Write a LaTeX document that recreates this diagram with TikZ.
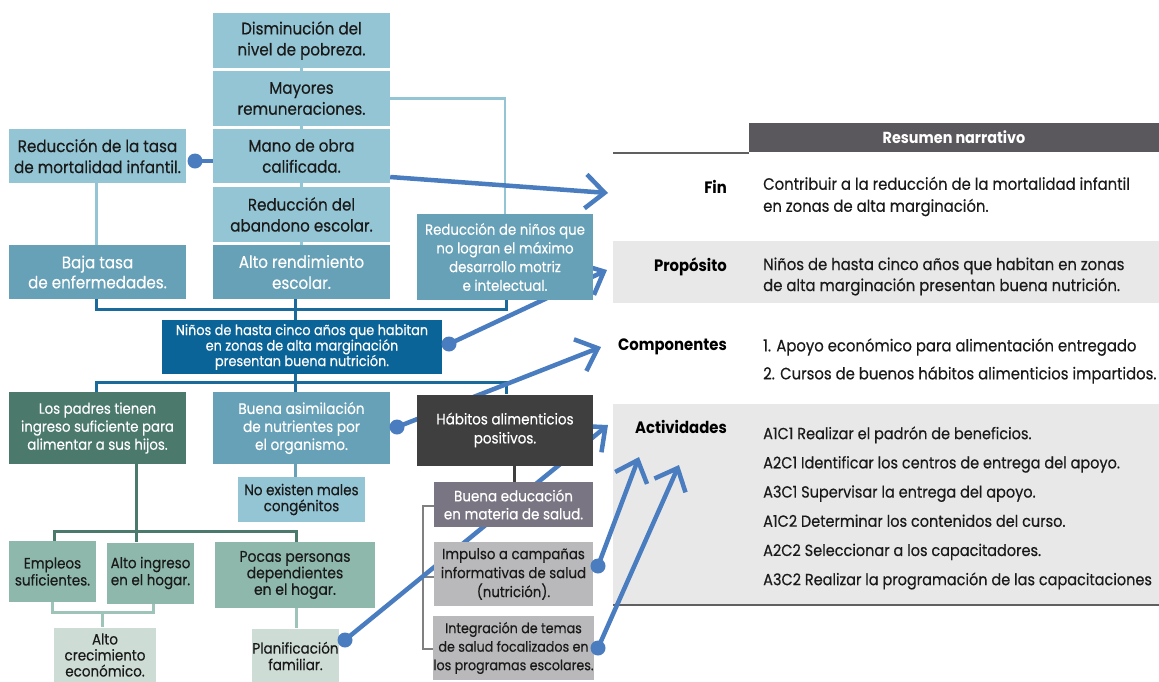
\documentclass[tikz,border=0pt]{standalone}
\usepackage{fontspec}
\setmainfont{Poppins}[FakeStretch=0.9, UprightFeatures={FakeBold=0.4}]
\usetikzlibrary{arrows.meta,calc}
\definecolor{lightteal}{HTML}{93C5D4}
\definecolor{midteal}{HTML}{66A1B7}
\definecolor{navy}{HTML}{0B6497}
\definecolor{treeblue}{HTML}{1B6A9C}
\definecolor{arrowblue}{HTML}{4A7DBF}
\definecolor{darkgreen}{HTML}{4B7A6D}
\definecolor{midgreen}{HTML}{8DB8AB}
\definecolor{palegreen}{HTML}{CDDCD5}
\definecolor{habgray}{HTML}{3F3F3F}
\definecolor{edugray}{HTML}{7A7582}
\definecolor{boxgray}{HTML}{B9B9BB}
\definecolor{headgray}{HTML}{5B585D}
\definecolor{bandgray}{HTML}{E8E8E8}
\definecolor{rulegray}{HTML}{606060}
\definecolor{txt}{HTML}{1A1A1A}
\pgfdeclarelayer{back}
\pgfdeclarelayer{bg}
\pgfsetlayers{back,bg,main}
\tikzset{
  box/.style={draw=none, inner sep=0pt, align=center, text=txt},
  wbox/.style={box, text=white},
  fs/.style 2 args={font=\fontsize{#1}{#2}\selectfont},
  dot/.style={circle, fill=arrowblue, minimum size=15pt, inner sep=0pt},
  arr/.style={draw=arrowblue, line width=4.5pt, -{Straight Barb[length=19pt,width=34pt]}},
  lbl/.style={anchor=east, inner sep=0pt, text=black, font=\fontsize{16.5}{20}\selectfont\bfseries},
  desc/.style={anchor=west, inner sep=0pt, align=left, text=txt},
  tb/.style={draw=treeblue, line width=3pt},
  tl/.style={draw=lightteal, line width=3pt},
}
\begin{document}
\begin{tikzpicture}[x=1pt,y=-1pt]
\useasboundingbox (0,0) rectangle (1159,681);

% ---------- table ----------
\begin{pgfonlayer}{back}
\fill[bandgray] (613,241) rectangle (1159,303);
\fill[bandgray] (613,404) rectangle (1159,605);
\draw[rulegray, line width=2.5pt] (613,605) -- (1159,605);
\draw[rulegray, line width=2.5pt] (613,153) -- (749,153);
\end{pgfonlayer}
\node[fill=headgray, minimum width=410pt, minimum height=29pt, inner sep=0pt, text=white, font=\fontsize{16}{18}\selectfont\bfseries] (head) at (954,137.5) {Resumen narrativo};

\node[lbl] (lfin) at (727,187) {Fin};
\node[desc, fs={16.5}{22}] (tfin) at (763,196.5) {Contribuir a la reducción de la mortalidad infantil\\en zonas de alta marginación.};
\node[lbl] (lprop) at (727,267) {Propósito};
\node[desc, fs={16.5}{21}] (tprop) at (763,276.5) {Niños de hasta cinco años que habitan en zonas\\de alta marginación presentan buena nutrición.};
\node[lbl] (lcomp) at (727,347) {Componentes};
\node[desc, fs={16.5}{28}] (tcomp) at (763,361) {1. Apoyo económico para alimentación entregado\\2. Cursos de buenos hábitos alimenticios impartidos.};
\node[lbl] (lact) at (727,427) {Actividades};
\node[desc, fs={16.1}{29.2}] (tact) at (763,508) {A1C1 Realizar el padrón de beneficios.\\A2C1 Identificar los centros de entrega del apoyo.\\A3C1 Supervisar la entrega del apoyo.\\A1C2 Determinar los contenidos del curso.\\A2C2 Seleccionar a los capacitadores.\\A3C2 Realizar la programación de las capacitaciones};

% ---------- boxes ----------
\node[box, fs={16.8}{21}, fill=lightteal, minimum width=177pt, minimum height=55pt] (dis) at (301.5,40.5) {Disminución del\\nivel de pobreza.};
\node[box, fs={16.8}{21}, fill=lightteal, minimum width=177pt, minimum height=55pt] (may) at (301.5,98.5) {Mayores\\remuneraciones.};
\node[box, fs={16.8}{21}, fill=lightteal, minimum width=177pt, minimum height=54pt] (mano) at (301.5,156) {Mano de obra\\calificada.};
\node[box, fs={16.8}{21}, fill=lightteal, minimum width=177pt, minimum height=55pt] (aban) at (301.5,214.5) {Reducción del\\abandono escolar.};
\node[wbox, fs={16.8}{21}, fill=midteal, minimum width=177pt, minimum height=54pt] (alto) at (301.5,272) {Alto rendimiento\\escolar.};
\node[box, fs={16.8}{21}, fill=lightteal, minimum width=177pt, minimum height=54pt] (tasa) at (97.5,156) {Reducción de la tasa\\de mortalidad infantil.};
\node[wbox, fs={16.8}{20}, fill=midteal, minimum width=177pt, minimum height=54pt] (baja) at (97.5,272) {Baja tasa\\de enfermedades.};
\node[wbox, fs={14.8}{18.7}, fill=midteal, minimum width=176pt, minimum height=86pt] (rnin) at (505,257) {Reducción de niños que\\no logran el máximo\\desarrollo motriz\\e intelectual.};
\node[wbox, fs={14.3}{15.5}, fill=navy, minimum width=280pt, minimum height=54pt] (ninos) at (302,347) {Niños de hasta cinco años que habitan\\en zonas de alta marginación\\presentan buena nutrición.};
\node[wbox, fs={14.8}{18}, fill=darkgreen, minimum width=177pt, minimum height=72pt] (padres) at (97.5,428) {Los padres tienen\\ingreso suficiente para\\alimentar a sus hijos.};
\node[wbox, fs={15.2}{18}, fill=midteal, minimum width=177pt, minimum height=72pt] (asim) at (301.5,428) {Buena asimilación\\de nutrientes por\\el organismo.};
\node[wbox, fs={15}{19}, fill=habgray, minimum width=176pt, minimum height=71pt] (hab) at (505,430) {Hábitos alimenticios\\positivos.};
\node[box, fs={15}{16}, fill=lightteal, minimum width=127pt, minimum height=45pt] (noex) at (301.5,499.5) {No existen males\\congénitos};
\node[box, fs={15}{17}, fill=midgreen, minimum width=87pt, minimum height=61pt] (emp) at (52.5,571.5) {Empleos\\suficientes.};
\node[box, fs={15}{17}, fill=midgreen, minimum width=87pt, minimum height=61pt] (ingr) at (150.5,573) {Alto ingreso\\en el hogar.};
\node[box, fs={15.5}{16.5}, fill=midgreen, minimum width=160pt, minimum height=66pt] (pocas) at (295,575) {Pocas personas\\dependientes\\en el hogar.};
\node[box, fs={15}{16}, fill=palegreen, minimum width=102pt, minimum height=55pt] (crec) at (105,655) {Alto\\crecimiento\\económico.};
\node[box, fs={15}{16.5}, fill=palegreen, minimum width=85pt, minimum height=55pt] (plan) at (295.5,656) {Planificación\\familiar.};
\node[wbox, fs={15}{18}, fill=edugray, minimum width=159pt, minimum height=45pt] (edu) at (513.5,504.5) {Buena educación\\en materia de salud.};
\node[box, fs={14.8}{19}, fill=boxgray, minimum width=159pt, minimum height=64pt] (imp) at (513.5,574) {Impulso a campañas\\informativas de salud\\(nutrición).};
\node[box, fs={14.1}{18.5}, fill=boxgray, minimum width=159pt, minimum height=64pt] (integ) at (513.5,648) {Integración de temas\\de salud focalizados en\\los programas escolares.};

% ---------- dots ----------
\node[dot] (d1) at (195,161) {};
\node[dot] (d2) at (449,344) {};
\node[dot] (d3) at (397,427) {};
\node[dot] (d4) at (345,640) {};
\node[dot] (d5) at (598,566) {};
\node[dot] (d6) at (598,648) {};

% ---------- arrow tips ----------
\coordinate (afin) at (608,193);
\coordinate (aprop) at (607,270);
\coordinate (acomp) at (601,347);
\coordinate (aact1) at (608,425);
\coordinate (aact2) at (639,457);
\coordinate (aact3) at (679,465);

\begin{pgfonlayer}{bg}
% light connectors
\draw[tl] (dis.south) -- (alto.north);
\draw[tl, line width=2.5pt] (may.east) -- (may.east -| rnin.north) -- (rnin.north);
\draw[tl] (tasa.south -| 96,0) -- (baja.north -| 96,0);
% blue tree
\draw[tb] (baja.south -| 96,0) -- (96,309) -- (506,309) -- (rnin.south -| 506,0);
\draw[tb] (alto.south -| 295,0) -- (ninos.north -| 295,0);
\draw[tb] (ninos.south -| 295,0) -- (asim.north -| 295,0);
\draw[tb] (padres.north -| 96,0) -- (96,382) -- (506,382) -- (hab.north -| 506,0);
\draw[midteal, line width=3pt] (asim.south -| 295,0) -- (noex.north -| 295,0);
% green tree
\draw[darkgreen, line width=3pt] (padres.south -| 136,0) -- (ingr.north -| 136,0);
\draw[darkgreen, line width=3pt] (emp.north -| 54,0) -- (54,531) -- (296,531) -- (pocas.north -| 296,0);
\draw[midgreen!85!white, line width=3pt] (emp.south -| 52,0) -- (52,612) -- (153,612) -- (ingr.south -| 153,0);
\draw[midgreen!85!white, line width=3pt] (102,612) -- (crec.north -| 102,0);
\draw[midgreen!85!white, line width=3pt] (pocas.south -| 296,0) -- (plan.north -| 296,0);
% gray tree
\draw[habgray, line width=3pt] (hab.south -| 514,0) -- (edu.north -| 514,0);
\draw[gray, line width=2.5pt] (edu.west |- 0,506) -- (423,506) -- (423,649) -- (integ.west |- 0,649);
\draw[gray, line width=2.5pt] (423,577) -- (imp.west |- 0,577);
% blue arrows
\draw[arrowblue, line width=4.5pt] (d1.center) -- (mano.west |- d1.center);
\draw[arr] ([yshift=-21pt]mano.east) -- (afin);
\draw[arr] (d2.center) -- (aprop);
\draw[arr] (d3.center) -- (acomp);
\draw[arr] (d4.center) -- (aact1);
\draw[arr] (d5.center) -- (aact2);
\draw[arr] (d6.center) -- (aact3);
\end{pgfonlayer}
\end{tikzpicture}
\end{document}
